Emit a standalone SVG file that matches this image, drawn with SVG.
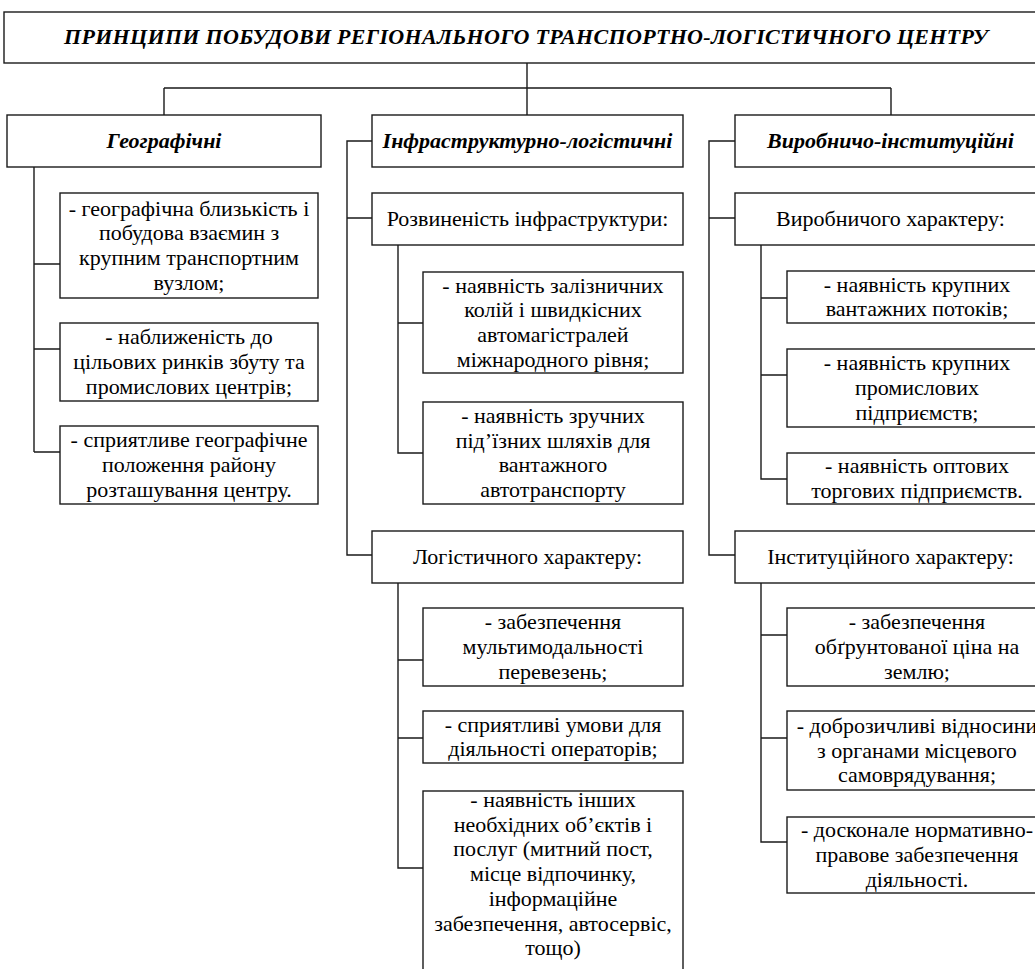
<svg xmlns="http://www.w3.org/2000/svg" width="1035" height="969" viewBox="0 0 1035 969" font-family="'Liberation Serif', 'DejaVu Serif', serif">
<style>
  .box { fill: #ffffff; stroke: #1a1a1a; stroke-width: 1.4; }
  .conn { fill: none; stroke: #1a1a1a; stroke-width: 1.4; }
  text { font-family: 'Liberation Serif', 'DejaVu Serif', serif; }
  .t { font-size: 22px; fill: #000; text-anchor: middle; }
  .h { font-size: 22px; font-weight: bold; font-style: italic; fill: #000; text-anchor: middle; }
</style>
<rect width="1035" height="969" fill="#ffffff"/>

<g id="connectors">
  <path class="conn" d="M527,63 V88 M164,88 H891 M164,88 V115 M527,88 V115 M891,88 V115"/>
  <path class="conn" d="M34,167 V452 M34,264 H60 M34,349 H60 M34,452 H60"/>
  <path class="conn" d="M372,141 H347 V555 H372 M347,218 H372"/>
  <path class="conn" d="M398,245 V453 H423 M398,323 H423"/>
  <path class="conn" d="M398,583 V868 H423 M398,660 H423 M398,738 H423"/>
  <path class="conn" d="M735,141 H709 V555 H735 M709,218 H735"/>
  <path class="conn" d="M761,245 V479 H787 M761,298 H787 M761,375 H787"/>
  <path class="conn" d="M761,583 V842 H787 M761,635 H787 M761,738 H787"/>
</g>

<g id="title">
  <rect class="box" x="4" y="12" width="1044" height="51"/>
  <text class="h" x="526" y="44" textLength="924">ПРИНЦИПИ ПОБУДОВИ РЕГІОНАЛЬНОГО ТРАНСПОРТНО-ЛОГІСТИЧНОГО ЦЕНТРУ</text>
</g>

<g id="geo">
  <rect class="box" x="7" y="115" width="314" height="52"/>
  <text class="h" x="164" y="148">Географічні</text>
</g>
<g id="geo1">
  <rect class="box" x="60" y="193" width="258" height="105"/>
  <text class="t"><tspan x="189" y="215.5">- географічна близькість і</tspan><tspan x="189" y="240.2">побудова взаємин з</tspan><tspan x="189" y="264.9">крупним транспортним</tspan><tspan x="189" y="289.6">вузлом;</tspan></text>
</g>
<g id="geo2">
  <rect class="box" x="60" y="323" width="258" height="78"/>
  <text class="t"><tspan x="189" y="344.3">- наближеність до</tspan><tspan x="189" y="369">цільових ринків збуту та</tspan><tspan x="189" y="393.7">промислових центрів;</tspan></text>
</g>
<g id="geo3">
  <rect class="box" x="60" y="426" width="258" height="78"/>
  <text class="t"><tspan x="189" y="447.3">- сприятливе географічне</tspan><tspan x="189" y="472">положення району</tspan><tspan x="189" y="496.7">розташування центру.</tspan></text>
</g>

<g id="infra">
  <rect class="box" x="372" y="115" width="311" height="52"/>
  <text class="h" x="527.5" y="148">Інфраструктурно-логістичні</text>
</g>
<g id="infra-dev">
  <rect class="box" x="372" y="193" width="311" height="52"/>
  <text class="t" x="527.5" y="226">Розвиненість інфраструктури:</text>
</g>
<g id="infra1">
  <rect class="box" x="423" y="272" width="260" height="101"/>
  <text class="t"><tspan x="553" y="292.5">- наявність залізничних</tspan><tspan x="553" y="317.2">колій і швидкісних</tspan><tspan x="553" y="341.9">автомагістралей</tspan><tspan x="553" y="366.6">міжнародного рівня;</tspan></text>
</g>
<g id="infra2">
  <rect class="box" x="423" y="402" width="260" height="102"/>
  <text class="t"><tspan x="553" y="423">- наявність зручних</tspan><tspan x="553" y="447.7">під’їзних шляхів для</tspan><tspan x="553" y="472.4">вантажного</tspan><tspan x="553" y="497.1">автотранспорту</tspan></text>
</g>
<g id="logist">
  <rect class="box" x="372" y="531" width="311" height="52"/>
  <text class="t" x="527.5" y="564">Логістичного характеру:</text>
</g>
<g id="logist1">
  <rect class="box" x="423" y="608" width="260" height="78"/>
  <text class="t"><tspan x="553" y="629.3">- забезпечення</tspan><tspan x="553" y="654">мультимодальності</tspan><tspan x="553" y="678.7">перевезень;</tspan></text>
</g>
<g id="logist2">
  <rect class="box" x="423" y="711" width="260" height="52"/>
  <text class="t"><tspan x="553" y="731.7">- сприятливі умови для</tspan><tspan x="553" y="756.4">діяльності операторів;</tspan></text>
</g>
<g id="logist3">
  <rect class="box" x="423" y="791" width="260" height="190"/>
  <text class="t"><tspan x="553" y="807">- наявність інших</tspan><tspan x="553" y="831.7">необхідних об’єктів і</tspan><tspan x="553" y="856.4">послуг (митний пост,</tspan><tspan x="553" y="881.1">місце відпочинку,</tspan><tspan x="553" y="905.8">інформаційне</tspan><tspan x="553" y="930.5">забезпечення, автосервіс,</tspan><tspan x="553" y="955.2">тощо)</tspan></text>
</g>

<g id="prod">
  <rect class="box" x="735" y="115" width="311" height="52"/>
  <text class="h" x="890.5" y="148">Виробничо-інституційні</text>
</g>
<g id="prod-char">
  <rect class="box" x="735" y="193" width="311" height="52"/>
  <text class="t" x="890.5" y="226">Виробничого характеру:</text>
</g>
<g id="prod1">
  <rect class="box" x="787" y="271" width="260" height="52"/>
  <text class="t"><tspan x="917" y="291.7">- наявність крупних</tspan><tspan x="917" y="316.4">вантажних потоків;</tspan></text>
</g>
<g id="prod2">
  <rect class="box" x="787" y="349" width="260" height="78"/>
  <text class="t"><tspan x="917" y="370.3">- наявність крупних</tspan><tspan x="917" y="395">промислових</tspan><tspan x="917" y="419.7">підприємств;</tspan></text>
</g>
<g id="prod3">
  <rect class="box" x="787" y="453" width="260" height="51"/>
  <text class="t"><tspan x="917" y="473.2">- наявність оптових</tspan><tspan x="917" y="497.9">торгових підприємств.</tspan></text>
</g>
<g id="inst">
  <rect class="box" x="735" y="531" width="311" height="52"/>
  <text class="t" x="890.5" y="564">Інституційного характеру:</text>
</g>
<g id="inst1">
  <rect class="box" x="787" y="608" width="260" height="78"/>
  <text class="t"><tspan x="917" y="629.3">- забезпечення</tspan><tspan x="917" y="654">обґрунтованої ціна на</tspan><tspan x="917" y="678.7">землю;</tspan></text>
</g>
<g id="inst2">
  <rect class="box" x="787" y="711" width="260" height="79"/>
  <text class="t"><tspan x="917" y="732.8">- доброзичливі відносини</tspan><tspan x="917" y="757.5">з органами місцевого</tspan><tspan x="917" y="782.2">самоврядування;</tspan></text>
</g>
<g id="inst3">
  <rect class="box" x="787" y="817" width="260" height="76"/>
  <text class="t"><tspan x="917" y="837.3">- досконале нормативно-</tspan><tspan x="917" y="862">правове забезпечення</tspan><tspan x="917" y="886.7">діяльності.</tspan></text>
</g>
</svg>
